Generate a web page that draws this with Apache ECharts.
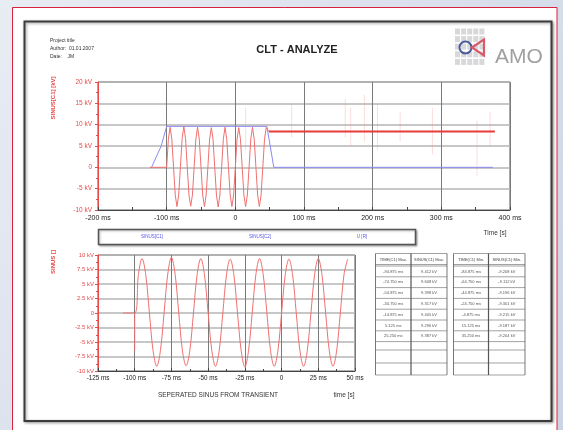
<!DOCTYPE html>
<html><head><meta charset="utf-8">
<script src="https://cdn.jsdelivr.net/npm/echarts/dist/echarts.min.js"></script>
<style>html,body{margin:0;padding:0;}#c{width:563px;height:430px;}</style>
</head><body><div id="c"></div>
<script>
// ---------- texts ----------
const headerLines = ['Project title', 'Author:  01.01.2007', 'Date:    JM'];
const chartTitle = 'CLT - ANALYZE';
const logoText = 'AMO';
const topYName = 'SINUS[C1] [kV]';
const bottomYName = 'SINUS []';
const topXName = 'Time [s]';
const bottomXName = 'time [s]';
const bottomSubtitle = 'SEPERATED SINUS FROM TRANSIENT';
const legendNames = ['SINUS[C1]', 'SINUS[C2]', 'U [R]'];

// ---------- axis ranges / ticks ----------
const topX = { min: -200, max: 400, step: 100 };
const topY = { min: -10, max: 20, step: 5 };
const botX = { min: -125, max: 50, step: 25 };
const botY = { min: -10, max: 10, step: 2.5 };

// ---------- series data (ms, kV) ----------
const sinusTimes = [-100,-97.5,-95,-92.5,-90,-87.5,-85,-82.5,-80,-77.5,-75,-72.5,-70,-67.5,-65,-62.5,-60,-57.5,-55,-52.5,-50,-47.5,-45,-42.5,-40,-37.5,-35,-32.5,-30,-27.5,-25,-22.5,-20,-17.5,-15,-12.5,-10,-7.5,-5,-2.5,0,2.5,5,7.5,10,12.5,15,17.5,20,22.5,25,27.5,30,32.5,35,37.5,40,42.5,45];
const sinusValues = [0,6.6,9.4,6.6,0,-6.5,-9.2,-6.5,0,6.7,9.6,6.7,0,-6.5,-9.1,-6.5,0,6.6,9.4,6.6,0,-6.5,-9.2,-6.5,0,6.6,9.3,6.6,0,-6.5,-9.3,-6.5,0,6.6,9.4,6.6,0,-6.5,-9.2,-6.5,0,6.6,9.3,6.6,0,-6.5,-9.2,-6.5,0,6.6,9.4,6.6,0,-6.5,-9.2,-6.5,0,6.6,9.3];

const preTimesTop = [-125, -100];
const preValuesTop = [0, 0];
const levelTimes = [49, 378];
const levelValues = [8.4, 8.4];

const envTimes = [-122, -108, -100, 46, 56, 375];
const envValues = [0, 5, 9.6, 9.6, 0, 0];

const spikeTimes = [15, 82, 160, 168, 188, 207, 240, 287, 352, 371];
const spikeHigh = [14, 15, 16, 14, 17, 15, 13, 14, 11, 13];
const spikeLow = [4, 7, 7, 5, 6, 4, 6, 3, -2, 5];

const preTimesBot = [-108, -100];
const preValuesBot = [0, 0];
const transientTimes = [-100, -100];
const transientValues = [0, -6.5];

// ---------- tables ----------
const tableHeaders = [['TIME(C1) Max.', 'SINUS(C1) Max.'], ['TIME(C1) Min.', 'SINUS(C1) Min.']];
const maxTimes = ['-94.875 ms', '-74.750 ms', '-54.875 ms', '-34.750 ms', '-14.875 ms', '5.125 ms', '25.250 ms'];
const maxValues = ['9.412 kV', '9.608 kV', '9.398 kV', '9.317 kV', '9.405 kV', '9.296 kV', '9.387 kV'];
const minTimes = ['-84.875 ms', '-64.750 ms', '-44.875 ms', '-24.750 ms', '-4.875 ms', '15.125 ms', '35.250 ms'];
const minValues = ['-9.208 kV', '-9.112 kV', '-9.196 kV', '-9.301 kV', '-9.215 kV', '-9.187 kV', '-9.204 kV'];

// ---------- build ----------
const FONT = '"Liberation Sans", Arial, sans-serif';
const RED = '#e84a4a';
const SINE = '#f07070';
const BLUE = '#8a8af2';

function pairs(xs, ys) { return xs.map((x, i) => [x, ys[i]]); }
function spikes() {
  const out = [];
  spikeTimes.forEach((t, i) => { out.push([t, spikeLow[i]], [t, spikeHigh[i]], [t, '-']); });
  return out;
}
const fmtMs = v => v === 0 ? '0' : v + ' ms';
const fmtKv = v => v === 0 ? '0' : v + ' kV';

const graphics = [];
// frames
graphics.push({ type: 'rect', z: -20, shape: { x: 12.5, y: 7.5, width: 544.5, height: 440 },
  style: { fill: '#ffffff', stroke: '#d8213c', lineWidth: 1 } });
graphics.push({ type: 'rect', z: -19, shape: { x: 24.5, y: 21.5, width: 527, height: 399.5 },
  style: { fill: '#ffffff', stroke: '#3c3c3c', lineWidth: 2, shadowBlur: 3, shadowColor: 'rgba(0,0,0,0.4)', shadowOffsetX: 1, shadowOffsetY: 1 } });
// header
headerLines.forEach((t, i) => graphics.push({ type: 'text', z: 5,
  style: { text: t, x: 50, y: 41 + i * 8, fill: '#333', font: '5px ' + FONT, textVerticalAlign: 'middle' } }));
graphics.push({ type: 'text', z: 5, style: { text: chartTitle, x: 297, y: 50, fill: '#222', font: 'bold 11px ' + FONT, textAlign: 'center', textVerticalAlign: 'middle' } });
// logo
for (let r = 0; r < 5; r++) for (let c = 0; c < 5; c++) {
  graphics.push({ type: 'rect', z: 5, shape: { x: 455 + c * 6.1, y: 28.5 + r * 7.6, width: 5, height: 6 }, style: { fill: '#d8d8da' } });
}
graphics.push({ type: 'ring', z: 6, shape: { cx: 465.5, cy: 47.5, r: 7, r0: 5 }, style: { fill: '#4a5a9a' } });
graphics.push({ type: 'polygon', z: 6, shape: { points: [[472, 47.5], [484, 39.5], [484, 55.5]] }, style: { fill: 'none', stroke: '#d85a6a', lineWidth: 2.2 } });
graphics.push({ type: 'text', z: 5,
  style: { text: logoText, x: 495, y: 57, fill: '#a0a0a2', font: '21px ' + FONT, textVerticalAlign: 'middle' } });
// axis names
graphics.push({ type: 'text', z: 5, x: 53, y: 98, rotation: Math.PI / 2,
  style: { text: topYName, x: 0, y: 0, fill: RED, font: 'bold 6px ' + FONT, textAlign: 'center', textVerticalAlign: 'middle' } });
graphics.push({ type: 'text', z: 5, x: 53, y: 262, rotation: Math.PI / 2,
  style: { text: bottomYName, x: 0, y: 0, fill: RED, font: 'bold 6px ' + FONT, textAlign: 'center', textVerticalAlign: 'middle' } });
graphics.push({ type: 'text', z: 5, style: { text: topXName, x: 495, y: 233, fill: '#333', font: '6.5px ' + FONT, textAlign: 'center', textVerticalAlign: 'middle' } });
graphics.push({ type: 'text', z: 5, style: { text: bottomXName, x: 344, y: 395, fill: '#333', font: '6.5px ' + FONT, textAlign: 'center', textVerticalAlign: 'middle' } });
graphics.push({ type: 'text', z: 5, style: { text: bottomSubtitle, x: 218, y: 395, fill: '#333', font: '6.5px ' + FONT, textAlign: 'center', textVerticalAlign: 'middle' } });
// legend box
graphics.push({ type: 'rect', z: 5, shape: { x: 98.5, y: 229.5, width: 317, height: 15 },
  style: { fill: '#fff', stroke: '#555', lineWidth: 1.5, shadowBlur: 2, shadowColor: 'rgba(0,0,0,0.3)', shadowOffsetX: 1, shadowOffsetY: 1 } });
[152, 260, 362].forEach((x, i) => graphics.push({ type: 'text', z: 6,
  style: { text: legendNames[i], x: x, y: 237, fill: '#5656e6', font: '4.5px ' + FONT, textAlign: 'center', textVerticalAlign: 'middle' } }));
// tables
function addTable(x0, xm, x1, headers, c1, c2) {
  const yTop = 253.5, yHead = 266, rowH = 10.8;
  const rowLines = [yTop, yHead - 1.5, yHead];
  for (let i = 1; i <= 7; i++) rowLines.push(yHead + i * rowH);
  rowLines.push(350, 363, 375);
  rowLines.forEach(y => graphics.push({ type: 'line', z: 5, shape: { x1: x0, y1: y, x2: x1, y2: y }, style: { stroke: '#8a8a8a', lineWidth: 0.8 } }));
  [x0, xm, x1].forEach(x => graphics.push({ type: 'line', z: 5, shape: { x1: x, y1: yTop, x2: x, y2: 375 }, style: { stroke: '#555', lineWidth: x === xm ? 1.2 : 0.8 } }));
  graphics.push({ type: 'text', z: 6, style: { text: headers[0], x: (x0 + xm) / 2, y: (yTop + yHead) / 2, fill: '#444', font: '4px ' + FONT, textAlign: 'center', textVerticalAlign: 'middle' } });
  graphics.push({ type: 'text', z: 6, style: { text: headers[1], x: (xm + x1) / 2, y: (yTop + yHead) / 2, fill: '#444', font: '4px ' + FONT, textAlign: 'center', textVerticalAlign: 'middle' } });
  c1.forEach((t, i) => {
    const y = yHead + (i + 0.5) * rowH;
    graphics.push({ type: 'text', z: 6, style: { text: t, x: (x0 + xm) / 2, y: y, fill: '#555', font: '4px ' + FONT, textAlign: 'center', textVerticalAlign: 'middle' } });
    graphics.push({ type: 'text', z: 6, style: { text: c2[i], x: (xm + x1) / 2, y: y, fill: '#555', font: '4px ' + FONT, textAlign: 'center', textVerticalAlign: 'middle' } });
  });
}
addTable(375.5, 411, 447, tableHeaders[0], maxTimes, maxValues);
addTable(453.5, 488.5, 525, tableHeaders[1], minTimes, minValues);

const axisLabelX = { color: '#222', fontSize: 7, fontFamily: FONT, formatter: fmtMs };
const option = {
  animation: false,
  backgroundColor: { type: 'linear', x: 0, y: 0, x2: 1, y2: 1,
    colorStops: [{ offset: 0, color: '#e8ecf3' }, { offset: 1, color: '#cbd4e5' }] },
  graphic: graphics,
  grid: [
    { left: 98, top: 82, width: 412, height: 128, show: true, borderColor: '#555', borderWidth: 1, backgroundColor: 'transparent' },
    { left: 98, top: 255, width: 257, height: 116, show: true, borderColor: '#555', borderWidth: 1, backgroundColor: 'transparent' }
  ],
  xAxis: [
    { type: 'value', gridIndex: 0, min: topX.min, max: topX.max, interval: topX.step,
      axisLine: { onZero: false, lineStyle: { color: '#444' } }, axisTick: { inside: true, length: 3, lineStyle: { color: '#444' } },
      minorTick: { show: true, splitNumber: 2, length: 3, lineStyle: { color: '#444' } },
      axisLabel: Object.assign({}, axisLabelX, { margin: 5 }),
      splitLine: { show: true, lineStyle: { color: '#7a7a7a', width: 1 } } },
    { type: 'value', gridIndex: 1, min: botX.min, max: botX.max, interval: botX.step,
      axisLine: { onZero: false, lineStyle: { color: '#444' } }, axisTick: { inside: true, length: 3, lineStyle: { color: '#444' } },
      minorTick: { show: true, splitNumber: 2, length: 2, lineStyle: { color: '#444' } },
      axisLabel: Object.assign({}, axisLabelX, { margin: 4, fontSize: 6.3 }),
      splitLine: { show: true, lineStyle: { color: '#7a7a7a', width: 1 } } }
  ],
  yAxis: [
    { type: 'value', gridIndex: 0, min: topY.min, max: topY.max, interval: topY.step,
      axisLine: { show: true, onZero: false, lineStyle: { color: RED } }, axisTick: { show: true, length: 3, lineStyle: { color: RED } },
      minorTick: { show: true, splitNumber: 2, length: 2, lineStyle: { color: RED } },
      axisLabel: { color: RED, fontSize: 6.5, fontFamily: FONT, margin: 6, formatter: fmtKv },
      splitLine: { show: true, lineStyle: { color: '#b4b4b4', width: 1.5 } } },
    { type: 'value', gridIndex: 1, min: botY.min, max: botY.max, interval: botY.step,
      axisLine: { show: true, onZero: false, lineStyle: { color: RED } }, axisTick: { show: true, length: 3, lineStyle: { color: RED } },
      minorTick: { show: true, splitNumber: 2, length: 2, lineStyle: { color: RED } },
      axisLabel: { color: RED, fontSize: 6, fontFamily: FONT, margin: 4, formatter: fmtKv },
      splitLine: { show: true, lineStyle: { color: '#b4b4b4', width: 1.5 } } }
  ],
  series: [
    { name: 'spikes', type: 'line', xAxisIndex: 0, yAxisIndex: 0, data: spikes(), symbol: 'none', connectNulls: false,
      lineStyle: { color: 'rgba(240,130,130,0.35)', width: 0.8 }, silent: true },
    { name: legendNames[2], type: 'line', xAxisIndex: 0, yAxisIndex: 0, data: pairs(envTimes, envValues), symbol: 'none',
      lineStyle: { color: BLUE, width: 1 } },
    { name: legendNames[0], type: 'line', xAxisIndex: 0, yAxisIndex: 0,
      data: pairs(preTimesTop, preValuesTop).concat(pairs(sinusTimes, sinusValues)).concat(pairs(levelTimes.slice(0, 1), levelValues.slice(0, 1))),
      symbol: 'none', lineStyle: { color: SINE, width: 1 } },
    { name: 'level', type: 'line', xAxisIndex: 0, yAxisIndex: 0, data: pairs(levelTimes, levelValues), symbol: 'none',
      lineStyle: { color: '#e53b3b', width: 2.2 } },
    { name: legendNames[1], type: 'line', xAxisIndex: 1, yAxisIndex: 1,
      data: pairs(preTimesBot, preValuesBot).concat(pairs(sinusTimes, sinusValues)), symbol: 'none', smooth: 0.35,
      lineStyle: { color: SINE, width: 1 } },
    { name: 'transient', type: 'line', xAxisIndex: 1, yAxisIndex: 1, data: pairs(transientTimes, transientValues), symbol: 'none',
      lineStyle: { color: SINE, width: 1 } }
  ]
};
const chart = echarts.init(document.getElementById('c'), null, { renderer: 'canvas' });
chart.setOption(option);
</script>
</body></html>
